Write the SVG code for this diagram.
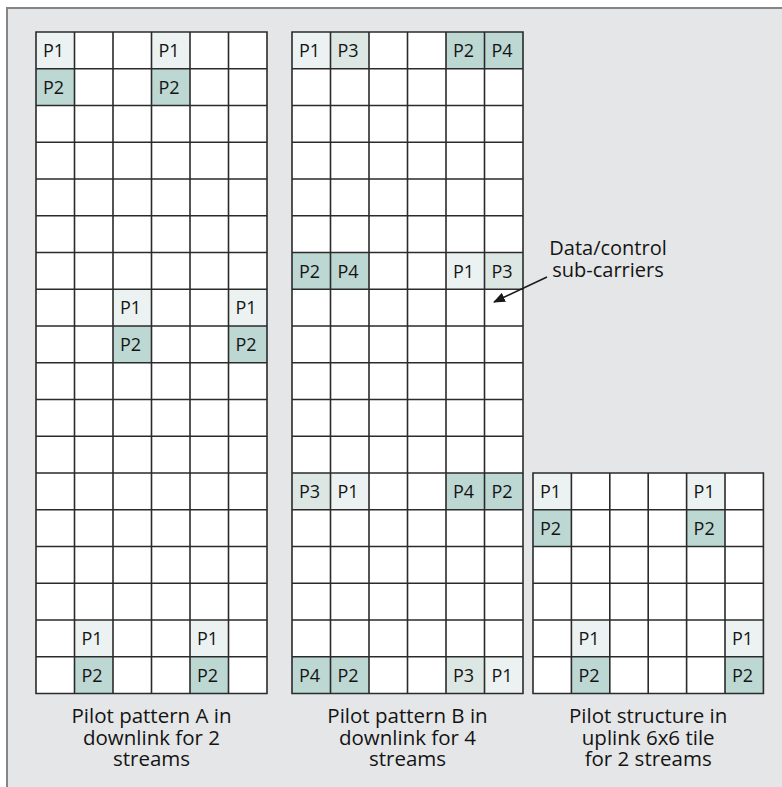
<svg xmlns="http://www.w3.org/2000/svg" width="782" height="787" viewBox="0 0 782 787">
<style>
.bg{fill:#e5e6e7}
.frame{fill:none;stroke:#858585;stroke-width:2}
.cell{fill:#ffffff}
.p1{fill:#ecf2f1}
.p3{fill:#dce6e2}
.p2{fill:#bdd7d2}
.grid{fill:none;stroke:#2b2b2b;stroke-width:1.6}
.lbl{font-family:"Open Sans","Noto Sans",sans-serif;font-size:18px;fill:#141414}
.cap{font-family:"Open Sans","Noto Sans",sans-serif;font-size:20.5px;fill:#141414;text-anchor:middle}
.note{font-family:"Open Sans","Noto Sans",sans-serif;font-size:20px;fill:#141414;text-anchor:middle}
.conn{stroke:#1a1a1a;stroke-width:1.5;fill:none}
</style>
<defs>
<marker id="ah" viewBox="0 0 12 10" refX="11" refY="5" markerWidth="12" markerHeight="10" markerUnits="userSpaceOnUse" orient="auto">
<path d="M0 0L12 5L0 10Z" fill="#1a1a1a"/>
</marker>
</defs>
<rect class="bg" x="7" y="8" width="775" height="779"/>
<path class="frame" d="M7 787V8H782"/>

<g id="gridA">
<rect class="cell" x="36" y="32" width="231" height="661.5"/>
<g id="A-r0c0"><rect class="p1" x="36" y="32" width="38.5" height="36.75"/><text class="lbl" x="43" y="57">P1</text></g>
<g id="A-r0c3"><rect class="p1" x="151.5" y="32" width="38.5" height="36.75"/><text class="lbl" x="158.5" y="57">P1</text></g>
<g id="A-r1c0"><rect class="p2" x="36" y="68.75" width="38.5" height="36.75"/><text class="lbl" x="43" y="93.75">P2</text></g>
<g id="A-r1c3"><rect class="p2" x="151.5" y="68.75" width="38.5" height="36.75"/><text class="lbl" x="158.5" y="93.75">P2</text></g>
<g id="A-r7c2"><rect class="p1" x="113" y="289.25" width="38.5" height="36.75"/><text class="lbl" x="120" y="314.25">P1</text></g>
<g id="A-r7c5"><rect class="p1" x="228.5" y="289.25" width="38.5" height="36.75"/><text class="lbl" x="235.5" y="314.25">P1</text></g>
<g id="A-r8c2"><rect class="p2" x="113" y="326" width="38.5" height="36.75"/><text class="lbl" x="120" y="351">P2</text></g>
<g id="A-r8c5"><rect class="p2" x="228.5" y="326" width="38.5" height="36.75"/><text class="lbl" x="235.5" y="351">P2</text></g>
<g id="A-r16c1"><rect class="p1" x="74.5" y="620" width="38.5" height="36.75"/><text class="lbl" x="81.5" y="645">P1</text></g>
<g id="A-r16c4"><rect class="p1" x="190" y="620" width="38.5" height="36.75"/><text class="lbl" x="197" y="645">P1</text></g>
<g id="A-r17c1"><rect class="p2" x="74.5" y="656.75" width="38.5" height="36.75"/><text class="lbl" x="81.5" y="681.75">P2</text></g>
<g id="A-r17c4"><rect class="p2" x="190" y="656.75" width="38.5" height="36.75"/><text class="lbl" x="197" y="681.75">P2</text></g>
<path class="grid" d="M36 32H267V693.5H36Z M74.5 32V693.5 M113 32V693.5 M151.5 32V693.5 M190 32V693.5 M228.5 32V693.5 M36 68.75H267 M36 105.5H267 M36 142.25H267 M36 179H267 M36 215.75H267 M36 252.5H267 M36 289.25H267 M36 326H267 M36 362.75H267 M36 399.5H267 M36 436.25H267 M36 473H267 M36 509.75H267 M36 546.5H267 M36 583.25H267 M36 620H267 M36 656.75H267"/>
<text class="cap" x="151.5" y="723">Pilot pattern A in</text>
<text class="cap" x="151.5" y="745">downlink for 2</text>
<text class="cap" x="151.5" y="766">streams</text>
</g>

<g id="gridB">
<rect class="cell" x="292" y="32" width="231" height="661.5"/>
<g id="B-r0c0"><rect class="p1" x="292" y="32" width="38.5" height="36.75"/><text class="lbl" x="299" y="57">P1</text></g>
<g id="B-r0c1"><rect class="p3" x="330.5" y="32" width="38.5" height="36.75"/><text class="lbl" x="337.5" y="57">P3</text></g>
<g id="B-r0c4"><rect class="p2" x="446" y="32" width="38.5" height="36.75"/><text class="lbl" x="453" y="57">P2</text></g>
<g id="B-r0c5"><rect class="p2" x="484.5" y="32" width="38.5" height="36.75"/><text class="lbl" x="491.5" y="57">P4</text></g>
<g id="B-r6c0"><rect class="p2" x="292" y="252.5" width="38.5" height="36.75"/><text class="lbl" x="299" y="277.5">P2</text></g>
<g id="B-r6c1"><rect class="p2" x="330.5" y="252.5" width="38.5" height="36.75"/><text class="lbl" x="337.5" y="277.5">P4</text></g>
<g id="B-r6c4"><rect class="p1" x="446" y="252.5" width="38.5" height="36.75"/><text class="lbl" x="453" y="277.5">P1</text></g>
<g id="B-r6c5"><rect class="p3" x="484.5" y="252.5" width="38.5" height="36.75"/><text class="lbl" x="491.5" y="277.5">P3</text></g>
<g id="B-r12c0"><rect class="p3" x="292" y="473" width="38.5" height="36.75"/><text class="lbl" x="299" y="498">P3</text></g>
<g id="B-r12c1"><rect class="p1" x="330.5" y="473" width="38.5" height="36.75"/><text class="lbl" x="337.5" y="498">P1</text></g>
<g id="B-r12c4"><rect class="p2" x="446" y="473" width="38.5" height="36.75"/><text class="lbl" x="453" y="498">P4</text></g>
<g id="B-r12c5"><rect class="p2" x="484.5" y="473" width="38.5" height="36.75"/><text class="lbl" x="491.5" y="498">P2</text></g>
<g id="B-r17c0"><rect class="p2" x="292" y="656.75" width="38.5" height="36.75"/><text class="lbl" x="299" y="681.75">P4</text></g>
<g id="B-r17c1"><rect class="p2" x="330.5" y="656.75" width="38.5" height="36.75"/><text class="lbl" x="337.5" y="681.75">P2</text></g>
<g id="B-r17c4"><rect class="p3" x="446" y="656.75" width="38.5" height="36.75"/><text class="lbl" x="453" y="681.75">P3</text></g>
<g id="B-r17c5"><rect class="p1" x="484.5" y="656.75" width="38.5" height="36.75"/><text class="lbl" x="491.5" y="681.75">P1</text></g>
<path class="grid" d="M292 32H523V693.5H292Z M330.5 32V693.5 M369 32V693.5 M407.5 32V693.5 M446 32V693.5 M484.5 32V693.5 M292 68.75H523 M292 105.5H523 M292 142.25H523 M292 179H523 M292 215.75H523 M292 252.5H523 M292 289.25H523 M292 326H523 M292 362.75H523 M292 399.5H523 M292 436.25H523 M292 473H523 M292 509.75H523 M292 546.5H523 M292 583.25H523 M292 620H523 M292 656.75H523"/>
<text class="cap" x="407.5" y="723">Pilot pattern B in</text>
<text class="cap" x="407.5" y="745">downlink for 4</text>
<text class="cap" x="407.5" y="766">streams</text>
</g>

<g id="gridC">
<rect class="cell" x="533" y="473" width="230.4" height="220.5"/>
<g id="C-r0c0"><rect class="p1" x="533" y="473" width="38.4" height="36.75"/><text class="lbl" x="540" y="498">P1</text></g>
<g id="C-r0c4"><rect class="p1" x="686.6" y="473" width="38.4" height="36.75"/><text class="lbl" x="693.6" y="498">P1</text></g>
<g id="C-r1c0"><rect class="p2" x="533" y="509.75" width="38.4" height="36.75"/><text class="lbl" x="540" y="534.75">P2</text></g>
<g id="C-r1c4"><rect class="p2" x="686.6" y="509.75" width="38.4" height="36.75"/><text class="lbl" x="693.6" y="534.75">P2</text></g>
<g id="C-r4c1"><rect class="p1" x="571.4" y="620" width="38.4" height="36.75"/><text class="lbl" x="578.4" y="645">P1</text></g>
<g id="C-r4c5"><rect class="p1" x="725" y="620" width="38.4" height="36.75"/><text class="lbl" x="732" y="645">P1</text></g>
<g id="C-r5c1"><rect class="p2" x="571.4" y="656.75" width="38.4" height="36.75"/><text class="lbl" x="578.4" y="681.75">P2</text></g>
<g id="C-r5c5"><rect class="p2" x="725" y="656.75" width="38.4" height="36.75"/><text class="lbl" x="732" y="681.75">P2</text></g>
<path class="grid" d="M533 473H763.4V693.5H533Z M571.4 473V693.5 M609.8 473V693.5 M648.2 473V693.5 M686.6 473V693.5 M725 473V693.5 M533 509.75H763.4 M533 546.5H763.4 M533 583.25H763.4 M533 620H763.4 M533 656.75H763.4"/>
<text class="cap" x="648.2" y="723">Pilot structure in</text>
<text class="cap" x="648.2" y="745">uplink 6x6 tile</text>
<text class="cap" x="648.2" y="766">for 2 streams</text>
</g>

<g id="label-data">
<text class="note" x="608" y="255">Data/control</text>
<text class="note" x="608" y="277">sub-carriers</text>
</g>

<g id="connectors">
<line class="conn" x1="547" y1="277" x2="494" y2="302" marker-end="url(#ah)"/>
</g>
</svg>
